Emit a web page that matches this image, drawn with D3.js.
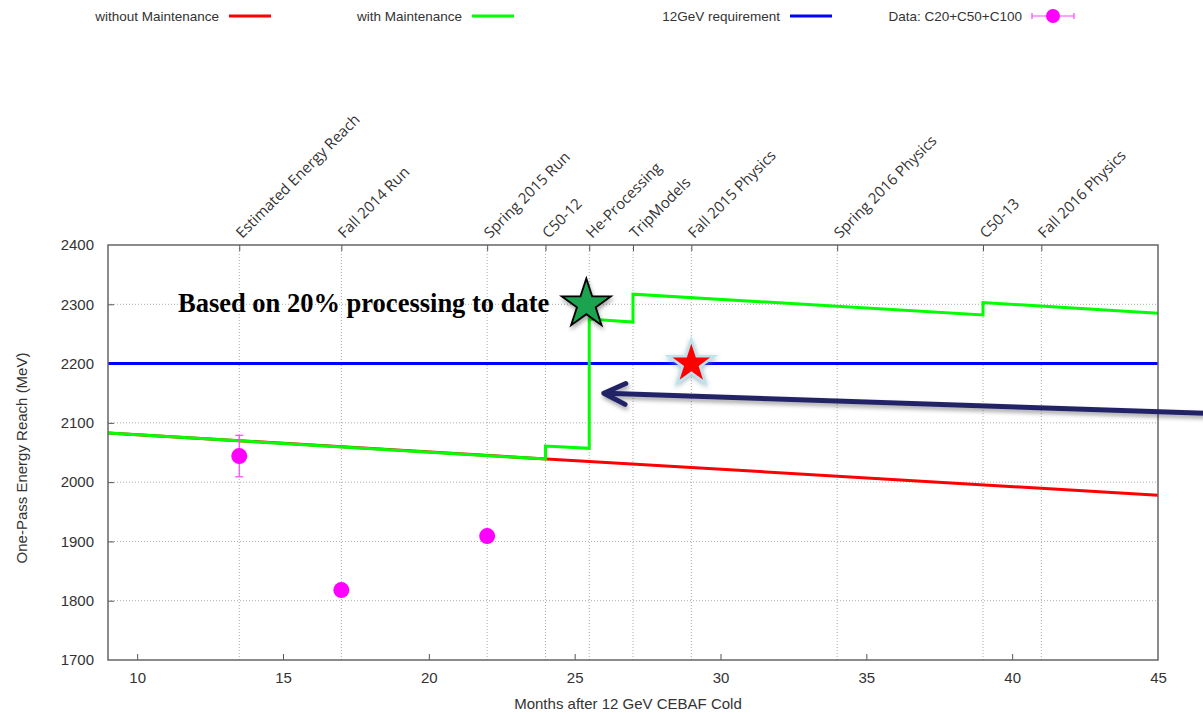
<!DOCTYPE html>
<html>
<head>
<meta charset="utf-8">
<script src="https://cdn.jsdelivr.net/npm/d3@7"></script>
<style>
  body { margin: 0; background: #fff; }
  text { font-family: "Liberation Sans", Arial, sans-serif; fill: #333; }
</style>
</head>
<body>
<script>
const w = 1203;
const h = 714;
const margin = {top: 245, right: 45, bottom: 54, left: 108};

// milestones along the top axis (months)
const milestoneMonths = [13.5, 17, 22, 24, 25.5, 27, 29, 34, 39, 41];
const milestoneLabels = ['Estimated Energy Reach', 'Fall 2014 Run', 'Spring 2015 Run', 'C50-12',
  'He-Processing', 'TripModels', 'Fall 2015 Physics', 'Spring 2016 Physics', 'C50-13', 'Fall 2016 Physics'];

const xTicks = [10, 15, 20, 25, 30, 35, 40, 45];
const yTicks = [1700, 1800, 1900, 2000, 2100, 2200, 2300, 2400];

// without Maintenance
const noMaintX = [9, 45];
const noMaintY = [2083, 1978];

// with Maintenance (steps at maintenance points)
const maintX = [9, 24, 24, 25.5, 25.5, 27, 27, 39, 39, 45];
const maintY = [2083, 2039, 2061, 2057, 2275, 2270, 2317, 2282, 2303, 2285];

// 12GeV requirement
const reqX = [9, 45];
const reqY = [2200, 2200];

// Data: C20+C50+C100
const dataX = [13.5, 17, 22];
const dataY = [2044, 1818, 1909];
const dataErr = [35, 0, 0];

// annotations
const starX = [25.4, 29];
const starY = [2300, 2200];
const arrowX = [46.6, 26.0];
const arrowY = [2116, 2150];
const noteText = 'Based on 20% processing to date';

const xScale = d3.scaleLinear().domain([9, 45]).range([margin.left, w - margin.right]);
const yScale = d3.scaleLinear().domain([1700, 2400]).range([h - margin.bottom, margin.top]);

const svg = d3.select('body').append('svg')
  .attr('width', w)
  .attr('height', h);

const defs = svg.append('defs');
const shadow = defs.append('filter').attr('id', 'shadow')
  .attr('x', '-20%').attr('y', '-50%').attr('width', '140%').attr('height', '200%');
shadow.append('feDropShadow').attr('dx', 1).attr('dy', 3).attr('stdDeviation', 2)
  .attr('flood-color', '#000').attr('flood-opacity', 0.35);
const glow = defs.append('filter').attr('id', 'glow')
  .attr('x', '-50%').attr('y', '-50%').attr('width', '200%').attr('height', '200%');
glow.append('feDropShadow').attr('dx', 0).attr('dy', 2).attr('stdDeviation', 2.5)
  .attr('flood-color', '#6b8fa0').attr('flood-opacity', 0.6);

const x0 = margin.left, x1 = w - margin.right;
const y0 = h - margin.bottom, y1 = margin.top;

// grid
svg.append('g').selectAll('line')
  .data(yTicks.slice(1, -1))
  .enter().append('line')
  .attr('x1', x0).attr('x2', x1)
  .attr('y1', d => yScale(d)).attr('y2', d => yScale(d))
  .attr('stroke', '#aaa').attr('stroke-width', 1).attr('stroke-dasharray', '1,2');

svg.append('g').selectAll('line')
  .data(milestoneMonths)
  .enter().append('line')
  .attr('x1', d => xScale(d)).attr('x2', d => xScale(d))
  .attr('y1', y0).attr('y2', y1)
  .attr('stroke', '#aaa').attr('stroke-width', 1).attr('stroke-dasharray', '1,2');

// axes
const xAxis = svg.append('g')
  .attr('transform', `translate(0,${y0})`)
  .call(d3.axisBottom(xScale).tickValues(xTicks).tickSize(-6).tickPadding(12).tickFormat(d3.format('d')));
const yAxis = svg.append('g')
  .attr('transform', `translate(${x0},0)`)
  .call(d3.axisLeft(yScale).tickValues(yTicks).tickSize(-6).tickPadding(14).tickFormat(d3.format('d')));
const topAxis = svg.append('g')
  .attr('transform', `translate(0,${y1})`)
  .call(d3.axisTop(xScale).tickValues(milestoneMonths).tickSize(-6).tickFormat(''));

[xAxis, yAxis, topAxis].forEach(g => {
  g.select('.domain').remove();
  g.selectAll('.tick line').attr('stroke', '#555');
  g.selectAll('.tick text').style('font-size', '15px').attr('fill', '#333');
});
yAxis.selectAll('.tick line').filter(d => d === 1700 || d === 2400).remove();
xAxis.selectAll('.tick line').filter(d => d === 45).remove();

// milestone labels
svg.append('g').selectAll('text')
  .data(milestoneMonths)
  .enter().append('text')
  .attr('transform', d => `translate(${xScale(d) + 3},${y1 - 6}) rotate(-45)`)
  .style('font-family', '"Open Sans", sans-serif')
  .style('font-size', '15px')
  .attr('fill', '#222')
  .text((d, i) => milestoneLabels[i]);

// lines
const line = d3.line().x(d => xScale(d[0])).y(d => yScale(d[1]));
const series = [
  {x: noMaintX, y: noMaintY, color: '#ff0000'},
  {x: reqX, y: reqY, color: '#0000ff'},
  {x: maintX, y: maintY, color: '#00ff00'}
];
series.forEach(s => {
  svg.append('path')
    .datum(s.x.map((v, i) => [v, s.y[i]]))
    .attr('d', line)
    .attr('fill', 'none')
    .attr('stroke', s.color)
    .attr('stroke-width', 3);
});

// data points with error bars
const pts = svg.append('g');
dataX.forEach((v, i) => {
  if (dataErr[i] > 0) {
    const cx = xScale(v);
    pts.append('line')
      .attr('x1', cx).attr('x2', cx)
      .attr('y1', yScale(dataY[i] - dataErr[i])).attr('y2', yScale(dataY[i] + dataErr[i]))
      .attr('stroke', '#ff44ff').attr('stroke-width', 1.2);
    [dataY[i] - dataErr[i], dataY[i] + dataErr[i]].forEach(e => {
      pts.append('line')
        .attr('x1', cx - 4).attr('x2', cx + 4)
        .attr('y1', yScale(e)).attr('y2', yScale(e))
        .attr('stroke', '#ff44ff').attr('stroke-width', 1.2);
    });
  }
});
pts.selectAll('circle')
  .data(dataX)
  .enter().append('circle')
  .attr('cx', d => xScale(d))
  .attr('cy', (d, i) => yScale(dataY[i]))
  .attr('r', 8)
  .attr('fill', '#ff00ff');

// frame
svg.append('rect')
  .attr('x', x0).attr('y', y1)
  .attr('width', x1 - x0).attr('height', y0 - y1)
  .attr('fill', 'none').attr('stroke', '#666').attr('stroke-width', 1.5);

// axis titles
svg.append('text')
  .attr('x', 628).attr('y', 709)
  .attr('text-anchor', 'middle')
  .style('font-size', '15px')
  .text('Months after 12 GeV CEBAF Cold');
svg.append('text')
  .attr('transform', `translate(27,458) rotate(-90)`)
  .attr('text-anchor', 'middle')
  .style('font-size', '15px')
  .text('One-Pass Energy Reach (MeV)');

// legend
const legend = [
  {label: 'without Maintenance', color: '#ff0000', x: 229},
  {label: 'with Maintenance', color: '#00ff00', x: 472},
  {label: '12GeV requirement', color: '#0000ff', x: 790},
  {label: 'Data:  C20+C50+C100', color: '#ff00ff', x: 1032, points: true}
];
const lg = svg.append('g');
legend.forEach(d => {
  lg.append('text')
    .attr('x', d.x - 10).attr('y', 21)
    .attr('text-anchor', 'end')
    .style('font-size', '13.5px')
    .text(d.label);
  if (d.points) {
    lg.append('line').attr('x1', d.x).attr('x2', d.x + 42).attr('y1', 16).attr('y2', 16)
      .attr('stroke', '#ff44ff').attr('stroke-width', 1.2);
    [d.x, d.x + 42].forEach(cx => lg.append('line')
      .attr('x1', cx).attr('x2', cx).attr('y1', 13).attr('y2', 19)
      .attr('stroke', '#ff44ff').attr('stroke-width', 1.2));
    lg.append('circle').attr('cx', d.x + 21).attr('cy', 16).attr('r', 7).attr('fill', '#ff00ff');
  } else {
    lg.append('line').attr('x1', d.x).attr('x2', d.x + 42).attr('y1', 16).attr('y2', 16)
      .attr('stroke', d.color).attr('stroke-width', 3);
  }
});

// annotation text
svg.append('text')
  .attr('x', 178).attr('y', 312)
  .style('font-family', '"Liberation Serif", "Times New Roman", serif')
  .style('font-weight', 'bold')
  .style('font-size', '26.5px')
  .style('fill', '#000')
  .text(noteText);

// arrow
const arrow = svg.append('g').attr('filter', 'url(#shadow)');
const ax0 = xScale(arrowX[0]), ay0 = yScale(arrowY[0]);
const ax1 = xScale(arrowX[1]), ay1 = yScale(arrowY[1]);
const ang = Math.atan2(ay0 - ay1, ax0 - ax1);
arrow.append('line')
  .attr('x1', ax0).attr('y1', ay0).attr('x2', ax1 + 3).attr('y2', ay1)
  .attr('stroke', '#232366').attr('stroke-width', 5);
arrow.append('path')
  .attr('d', d3.line()([
    [ax1 + 24 * Math.cos(ang - 0.45), ay1 + 24 * Math.sin(ang - 0.45)],
    [ax1, ay1],
    [ax1 + 24 * Math.cos(ang + 0.45), ay1 + 24 * Math.sin(ang + 0.45)]
  ]))
  .attr('fill', 'none').attr('stroke', '#232366').attr('stroke-width', 5)
  .attr('stroke-linecap', 'round').attr('stroke-linejoin', 'round');

// stars
const star = d3.symbol().type(d3.symbolStar);
svg.append('path')
  .attr('transform', `translate(${xScale(starX[0])},${yScale(starY[0])})`)
  .attr('d', star.size(750)())
  .attr('fill', '#1ea34f').attr('stroke', '#000').attr('stroke-width', 1.8)
  .attr('filter', 'url(#shadow)');
svg.append('path')
  .attr('transform', `translate(${xScale(starX[1])},${yScale(starY[1])})`)
  .attr('d', star.size(650)())
  .attr('fill', '#ff0000').attr('stroke', '#bfe3ec').attr('stroke-width', 2.5)
  .attr('filter', 'url(#glow)');
</script>
</body>
</html>
